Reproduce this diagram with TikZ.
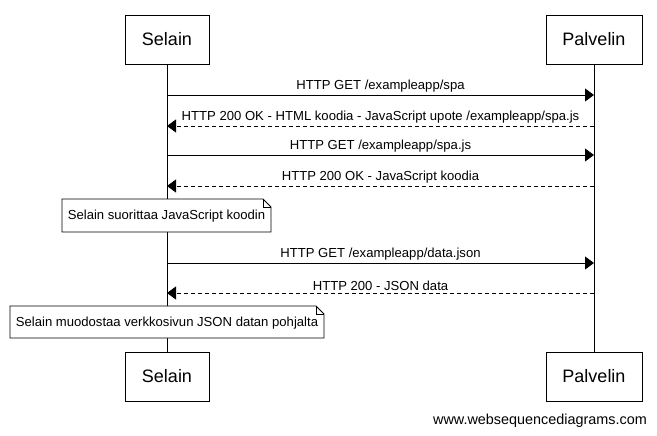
\documentclass[tikz,border=0pt]{standalone}
\usepackage{fontspec}
\setmainfont{Liberation Sans}
\usetikzlibrary{arrows.meta,calc}
\begin{document}
\begin{tikzpicture}[x=1pt,y=-1pt,
  actor/.style={draw,line width=0.8pt,fill=white,minimum width=84pt,minimum height=49pt,font=\fontsize{18}{20}\selectfont,inner sep=0pt},
  msg/.style={line width=0.8pt,-{Triangle[length=9pt,width=13pt]}},
  reply/.style={msg,dash pattern=on 4pt off 3pt},
  lbl/.style={font=\fontsize{13.1}{15}\selectfont,inner sep=0pt},
  notebox/.style={font=\fontsize{13.1}{15}\selectfont,inner sep=0pt},
  life/.style={line width=0.8pt}]
\useasboundingbox (0,0) rectangle (657,436);
% actors
\node[actor] (st) at (167,39.5) {Selain};
\node[actor,minimum width=96pt] (pt) at (594,39.5) {Palvelin};
\node[actor] (sb) at (167,376.5) {Selain};
\node[actor,minimum width=96pt] (pb) at (594,376.5) {Palvelin};
\draw[life] (st.south) -- (sb.north);
\draw[life] (pt.south) -- (pb.north);
% lifeline points
\foreach \n/\y in {1/95,2/126,3/155,4/186,5/263,6/293}{
  \coordinate (s\n) at (167,\y);
  \coordinate (p\n) at (594,\y);
}
\draw[msg] (s1) -- (p1) node[lbl,midway,above=2pt] {HTTP GET /exampleapp/spa};
\draw[reply] (p2) -- (s2) node[lbl,midway,above=2pt] {HTTP 200 OK - HTML koodia - JavaScript upote /exampleapp/spa.js};
\draw[msg] (s3) -- (p3) node[lbl,midway,above=2pt] {HTTP GET /exampleapp/spa.js};
\draw[reply] (p4) -- (s4) node[lbl,midway,above=2pt] {HTTP 200 OK - JavaScript koodia};
\draw[msg] (s5) -- (p5) node[lbl,midway,above=2pt] {HTTP GET /exampleapp/data.json};
\draw[reply] (p6) -- (s6) node[lbl,midway,above=2pt] {HTTP 200 - JSON data};
% notes
\coordinate (n1a) at (62,199); \coordinate (n1b) at (271,232);
\coordinate (n2a) at (10,306); \coordinate (n2b) at (324,338);
\foreach \a/\b in {n1a/n1b,n2a/n2b}{
  \draw[line width=0.8pt,fill=white] (\a) -- ($(\b|-\a)+(-8,0)$) coordinate (f) -- ($(\b|-\a)+(0,8)$) -- (\b) -- (\a|-\b) -- cycle;
  \draw[line width=0.6pt] (f) -- ++(0,8) -- ++(8,0);
}
\node[notebox] (note1) at ($(n1a)!0.5!(n1b)+(0,1)$) {Selain suorittaa JavaScript koodin};
\node[notebox] (note2) at ($(n2a)!0.5!(n2b)+(0,1)$) {Selain muodostaa verkkosivun JSON datan pohjalta};
\node[font=\fontsize{14.4}{16}\selectfont,inner sep=0pt] (wm) at (540,421) {www.websequencediagrams.com};
\end{tikzpicture}
\end{document}
